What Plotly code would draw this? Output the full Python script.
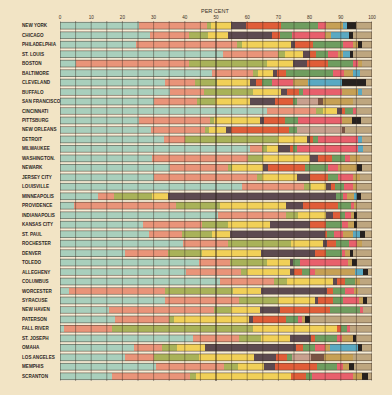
import plotly.graph_objects as go

cities = ["NEW YORK", "CHICAGO", "PHILADELPHIA", "ST. LOUIS", "BOSTON", "BALTIMORE",
          "CLEVELAND", "BUFFALO", "SAN FRANCISCO", "CINCINNATI", "PITTSBURG",
          "NEW ORLEANS", "DETROIT", "MILWAUKEE", "WASHINGTON.", "NEWARK",
          "JERSEY CITY", "LOUISVILLE", "MINNEAPOLIS", "PROVIDENCE", "INDIANAPOLIS",
          "KANSAS CITY", "ST. PAUL", "ROCHESTER", "DENVER", "TOLEDO", "ALLEGHENY",
          "COLUMBUS", "WORCESTER", "SYRACUSE", "NEW HAVEN", "PATERSON", "FALL RIVER",
          "ST. JOSEPH", "OMAHA", "LOS ANGELES", "MEMPHIS", "SCRANTON"]

teal = [25.3, 29.0, 24.2, 52.4, 5.0, 48.7, 33.5, 35.2, 30.2, 66.3, 25.2, 29.2, 33.4, 61.0,
        29.5, 35.4, 30.2, 58.3, 12.1, 4.4, 50.5, 26.6, 28.4, 39.4, 20.7, 44.4, 40.5, 51.4,
        2.8, 33.8, 15.6, 17.5, 1.4, 42.6, 23.8, 20.7, 30.9, 16.7]
salmon = [21.8, 12.5, 32.5, 17.6, 36.5, 13.3, 9.9, 10.8, 13.7, 15.8, 23.0, 17.4, 6.8, 3.7,
          30.9, 18.3, 32.9, 19.9, 5.1, 32.9, 22.0, 18.9, 10.7, 14.3, 13.8, 10.2, 17.5, 17.3,
          31.0, 23.7, 33.8, 17.3, 15.3, 14.9, 8.9, 9.3, 21.7, 25.1]
olive = [1.3, 5.8, 1.6, 2.2, 24.8, 1.6, 6.9, 16.0, 5.9, 2.3, 1.3, 1.0, 29.8, 1.6, 4.8, 1.4,
         1.6, 2.2, 12.3, 14.1, 3.9, 8.2, 9.6, 20.3, 11.0, 11.7, 1.9, 4.0, 21.8, 12.5, 5.4,
         1.8, 45.1, 6.9, 4.8, 14.4, 4.3, 1.9]
yellow = [6.4, 6.7, 15.7, 5.6, 8.3, 4.6, 10.7, 8.8, 11.2, 4.3, 14.7, 5.7, 9.1, 3.7, 15.0,
          10.1, 11.2, 4.9, 5.0, 21.1, 8.9, 13.7, 5.9, 10.4, 18.9, 7.3, 13.9, 14.7, 8.8, 11.8,
          9.2, 24.1, 26.9, 9.4, 9.1, 17.8, 8.5, 30.3]
purple = [4.9, 13.9, 1.4, 2.2, 4.7, 1.5, 1.9, 1.9, 8.0, 1.6, 1.2, 1.5, 1.1, 3.8, 2.6, 1.6,
          4.1, 1.5, 54.0, 5.5, 2.3, 12.6, 30.4, 1.3, 17.4, 1.0, 1.2, 1.5, 21.3, 1.0, 6.4,
          1.3, 0, 6.6, 29.1, 7.1, 3.6, 0]
orange = [11.1, 2.7, 5.8, 2.1, 6.7, 2.8, 1.8, 4.0, 5.8, 1.1, 6.8, 18.7, 1.0, 0.8, 4.3, 11.8,
          6.0, 1.4, 0, 11.2, 2.2, 5.3, 0.7, 2.8, 3.5, 0, 2.5, 2.5, 1.7, 4.6, 16.2, 10.5, 1.3,
          1.4, 2.3, 3.6, 13.5, 4.9]
green = [12.0, 3.9, 9.6, 3.9, 8.0, 15.1, 3.2, 1.3, 1.3, 2.6, 4.2, 2.4, 1.6, 1.3, 4.3, 7.4,
         3.2, 2.8, 2.3, 4.0, 1.6, 5.0, 2.1, 4.2, 5.0, 2.2, 2.5, 3.2, 4.0, 3.4, 9.6, 3.9, 1.9,
         7.1, 3.8, 1.4, 6.2, 1.8]
pink = [2.5, 10.5, 3.0, 3.0, 1.6, 3.4, 6.9, 12.3, 0, 1.0, 13.9, 0, 12.8, 19.7, 1.6, 3.2, 4.8,
        3.0, 1.1, 1.0, 1.8, 2.1, 2.8, 2.6, 1.1, 15.6, 1.8, 0, 2.8, 5.1, 1.0, 1.1, 1.1, 1.4,
        3.2, 0, 2.1, 13.1]
rose = [0, 0, 0, 0, 0, 0, 0, 0, 6.7, 0, 0, 14.4, 0, 0, 0, 0, 0, 0, 0, 0, 0, 0, 0, 0, 0, 0,
        0, 0, 0, 0, 0, 0, 0, 0, 0, 6.1, 0, 0]
dkbrown = [0, 0, 0, 0, 0, 0, 0, 0, 1.6, 0, 0, 1.1, 0, 0, 0, 0, 0, 0, 0, 0, 0, 0, 0, 0, 0, 0,
           0, 0, 0, 0, 0, 0, 0, 0, 0, 4.2, 0, 0]
khaki = [5.5, 1.8, 1.8, 1.8, 1.1, 2.8, 4.8, 5.3, 9.6, 0, 3.2, 0, 0, 0, 3.2, 5.9, 2.2, 1.1,
         2.3, 1.1, 1.0, 1.8, 3.2, 1.4, 1.6, 1.1, 12.8, 1.4, 1.3, 1.3, 0, 1.1, 0, 3.5, 1.6,
         9.2, 1.9, 2.9]
blue = [1.1, 5.9, 0, 2.2, 0, 2.2, 10.7, 1.1, 0, 0, 0, 0, 1.1, 1.6, 0, 0, 0, 0, 0.9, 0, 0, 0,
        2.4, 0, 0, 0, 2.6, 0, 0, 0, 0, 0, 0, 0, 9.0, 0, 0, 0]
black = [2.9, 1.1, 1.1, 1.0, 0, 0, 7.8, 0, 0, 0, 2.9, 0, 0, 0, 0, 1.6, 0, 0, 1.3, 0, 1.1, 1.1,
         1.6, 0, 1.0, 1.8, 1.6, 0, 0, 1.1, 0, 1.4, 0, 1.1, 1.1, 0, 1.5, 2.1]
tan = [5.2, 6.2, 3.3, 6.0, 3.3, 4.0, 1.9, 3.3, 6.0, 5.0, 3.6, 8.6, 3.3, 2.8, 3.8, 3.3, 3.8,
       4.9, 3.6, 4.7, 4.7, 4.7, 2.2, 3.3, 6.0, 4.7, 1.2, 4.0, 4.5, 1.7, 2.8, 20.0, 7.0, 5.1,
       3.3, 6.2, 5.8, 1.2]

tick_vals = [0, 10, 20, 30, 40, 50, 60, 70, 80, 90, 100]
tick_text = ["0", "10", "20", "30", "40", "50", "60", "70", "80", "90", "100"]

series = [
    (teal, "#a9cfbc"), (salmon, "#e99479"), (olive, "#a9b259"), (yellow, "#f1d058"),
    (purple, "#5d4a50"), (orange, "#e05d38"), (green, "#6f9d5f"), (pink, "#e8606c"),
    (rose, "#c8a08e"), (dkbrown, "#7a5444"), (khaki, "#c6a055"), (blue, "#5aa9c2"),
    (black, "#26211f"), (tan, "#bea67f"),
]

fig = go.Figure()
for vals, col in series:
    fig.add_trace(go.Bar(x=vals, y=cities, orientation="h", width=0.72,
                         marker=dict(color=col, line=dict(width=0)),
                         showlegend=False, hoverinfo="x+y"))

totals = [sum(v[i] for v, _ in series) for i in range(len(cities))]
shapes = []
for i, t in enumerate(totals):
    shapes.append(dict(type="rect", xref="x", yref="y", x0=0, x1=t,
                       y0=i - 0.36, y1=i + 0.36, layer="above",
                       line=dict(color="rgba(70,55,45,0.85)", width=0.6)))
for g in range(0, 101, 5):
    shapes.append(dict(type="line", xref="x", yref="paper", x0=g, x1=g, y0=0, y1=1,
                       layer="above",
                       line=dict(color="rgba(60,48,38,0.75)" if g != 50 else "rgba(40,30,25,0.95)",
                                 width=0.6 if g != 50 else 1.0)))

annotations = []
for c in cities:
    annotations.append(dict(xref="paper", yref="y", x=-0.128, y=c, text="<b>" + c + "</b>",
                            xanchor="left", yanchor="middle", showarrow=False,
                            font=dict(family="Liberation Sans", size=4.6, color="#2e2824")))
annotations.append(dict(xref="x", yref="paper", x=44.6, y=1.0, yshift=10, text="PER CENT",
                        xanchor="left", yanchor="middle", showarrow=False,
                        font=dict(family="Liberation Sans", size=5.5, color="#3a302a")))

fig.update_layout(
    width=392, height=395,
    margin=dict(l=59.5, r=20, t=21.3, b=14.3),
    barmode="stack", bargap=0.28,
    paper_bgcolor="#f2e4c5", plot_bgcolor="#f7edd6",
    shapes=shapes, annotations=annotations,
    xaxis=dict(range=[0, 100], side="top", tickvals=tick_vals, ticktext=tick_text,
               showgrid=False, zeroline=False, ticks="", ticklen=0,
               tickfont=dict(family="Liberation Sans", size=4.6, color="#3a302a")),
    yaxis=dict(autorange="reversed", showticklabels=False, showgrid=False,
               zeroline=False, ticks=""),
)

fig.write_html("out.html", config={"displayModeBar": False},
               post_script="document.body.style.margin='0';document.body.style.background='#f2e4c5';")
